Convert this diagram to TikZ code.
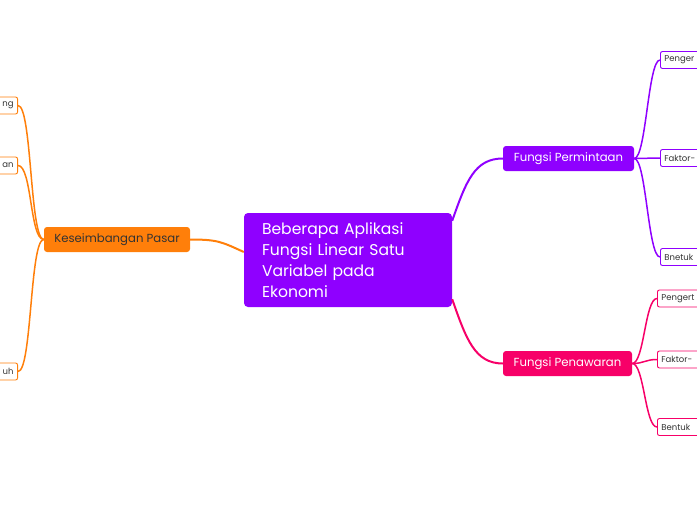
\documentclass[tikz,border=0pt]{standalone}
\usepackage{fontspec}
\setmainfont{Poppins}
\usetikzlibrary{positioning}
\definecolor{clrpurple}{HTML}{8F00FF}
\definecolor{clrpink}{HTML}{F70068}
\definecolor{clrorange}{HTML}{FF7F0A}
\definecolor{clrtext}{HTML}{333333}

\begin{document}
\begin{tikzpicture}[x=1pt, y=-1pt,
    topic/.style={fill=#1, rounded corners=3pt, text=white, minimum height=25pt,
        inner xsep=6pt, font=\fontsize{11.7}{13}\selectfont},
    leafr/.style={draw=#1, fill=white, rounded corners=2pt, line width=0.9pt, anchor=west,
        text=clrtext, text width=60pt, align=left, inner xsep=4pt, minimum height=17pt,
        font=\fontsize{8.5}{10}\selectfont},
    leafl/.style={leafr=#1, anchor=east, align=right},
    link/.style={draw=#1, line width=2pt},
    twig/.style={draw=#1, line width=1.5pt}]
    \useasboundingbox (0,0) rectangle (697,520);
    \clip (0,0) rectangle (697,520);

    %central topic
    \node[fill=clrpurple, rounded corners=4pt, text=white, minimum height=94pt,
        text width=172pt, inner xsep=18pt, align=left,
        font=\fontsize{15.6}{21}\selectfont] (root) at (348,260)
        {Beberapa Aplikasi\\Fungsi Linear Satu\\Variabel pada\\Ekonomi};

    %main topics
    \node[topic=clrpurple, minimum width=131pt] (perm) at (568.5,158.5) {Fungsi Permintaan};
    \node[topic=clrpink, minimum width=129pt] (pena) at (567.5,363.5) {Fungsi Penawaran};
    \node[topic=clrorange, minimum width=146pt, text=clrtext] (kese) at (117,239.5) {Keseimbangan Pasar};

    %subtopics
    \node[leafr=clrpurple] (perm1) at (660,60) {Penger};
    \node[leafr=clrpurple] (perm2) at (660,158) {Faktor-};
    \node[leafr=clrpurple] (perm3) at (660,257) {Bnetuk};
    \node[leafr=clrpink] (pena1) at (657,298.5) {Pengert};
    \node[leafr=clrpink] (pena2) at (657,359.5) {Faktor-};
    \node[leafr=clrpink] (pena3) at (657,427) {Bentuk};
    \node[leafl=clrorange] (kese1) at (18,105.5) {ng};
    \node[leafl=clrorange] (kese2) at (18,165.5) {an};
    \node[leafl=clrorange] (kese3) at (18,371.5) {uh};

    %connectors
    \draw[link=clrpurple] ([yshift=-8pt]root.north east) .. controls +(14,-40) and +(-28,0) .. (perm.west);
    \draw[link=clrpink] ([yshift=8pt]root.south east) .. controls +(14,40) and +(-28,0) .. (pena.west);
    \draw[link=clrorange] ([yshift=8pt]root.west) .. controls +(-22,-10) and +(28,0) .. (kese.east);

    \foreach \i in {1,2,3} {
        \draw[twig=clrpurple] (perm.east) .. controls +(12,0) and +(-12,0) .. (perm\i.west);
        \draw[twig=clrpink] (pena.east) .. controls +(12,0) and +(-12,0) .. (pena\i.west);
        \draw[twig=clrorange] (kese.west) .. controls +(-14,0) and +(14,0) .. (kese\i.east);
    }
\end{tikzpicture}
\end{document}
